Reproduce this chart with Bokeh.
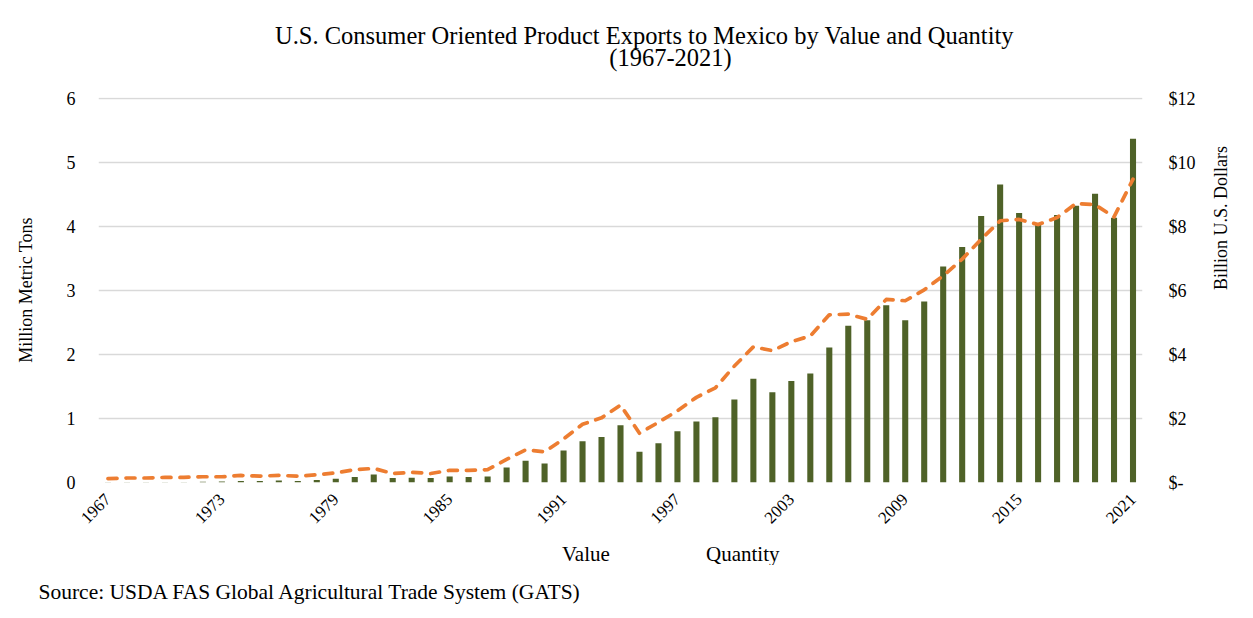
from math import pi
from bokeh.plotting import figure
from bokeh.layouts import column
from bokeh.models import (Range1d, LinearAxis, FixedTicker, Legend, LegendItem, Label, Title,
                          ColumnDataSource, CustomJSTickFormatter, CDSView, IndexFilter)
from bokeh.embed import file_html
from bokeh.resources import INLINE

# ---------------- data ----------------
years = list(range(1967, 2022))
value_busd = [0.005, 0.005, 0.006, 0.007, 0.008, 0.02, 0.03, 0.05, 0.05, 0.06,
              0.05, 0.08, 0.12, 0.17, 0.25, 0.14, 0.15, 0.14, 0.19, 0.17,
              0.19, 0.47, 0.68, 0.59, 1.00, 1.29, 1.42, 1.79, 0.96, 1.23,
              1.60, 1.91, 2.04, 2.59, 3.24, 2.82, 3.17, 3.41, 4.22, 4.90,
              5.07, 5.54, 5.07, 5.66, 6.75, 7.36, 8.33, 9.31, 8.42, 8.07,
              8.36, 8.65, 9.02, 8.27, 10.74]
quantity_mmt = [0.06, 0.07, 0.07, 0.08, 0.08, 0.09, 0.09, 0.11, 0.10, 0.11,
                0.10, 0.12, 0.15, 0.20, 0.22, 0.14, 0.16, 0.14, 0.19, 0.19,
                0.20, 0.36, 0.51, 0.48, 0.68, 0.91, 1.01, 1.21, 0.77, 0.94,
                1.12, 1.33, 1.48, 1.82, 2.12, 2.06, 2.20, 2.29, 2.62, 2.63,
                2.55, 2.86, 2.84, 3.01, 3.23, 3.49, 3.80, 4.09, 4.11, 4.03,
                4.14, 4.36, 4.34, 4.15, 4.74]
x_tick_years = [1967, 1973, 1979, 1985, 1991, 1997, 2003, 2009, 2015, 2021]
left_ticks = [0, 1, 2, 3, 4, 5, 6]
right_ticks = [0, 2, 4, 6, 8, 10, 12]
title_line1 = "U.S. Consumer Oriented Product Exports to Mexico by Value and Quantity"
title_line2 = "(1967-2021)"
left_label = "Million Metric Tons"
right_label = "Billion U.S. Dollars"
series_names = ["Value", "Quantity"]
source_text = "Source: USDA FAS Global Agricultural Trade System (GATS)"

# ---------------- layout constants (page pixels) ----------------
W, H = 1253, 618
TOP_H = 80            # strip holding the title
BOT_Y = 540           # strip holding legend + source starts here
FL, FR, FT, FB = 98, 1142, 97, 482   # plot frame edges on the page
PAD = 1 / 64                          # headroom so the top gridline is not clipped
FONT = "Liberation Serif"
GREEN = "#4F6228"
ORANGE = "#ED7D31"
GRID = "#D9D9D9"
BAR_W = 0.32
LINE_STYLE = dict(line_color=ORANGE, line_width=3.7, line_dash="9 9",
                  line_cap="round", line_join="round")

src = ColumnDataSource(dict(year=years, value=value_busd, qty=quantity_mmt))


def strip(y0, y1):
    """Plain figure used for text / legend; frames in a column align with the chart's."""
    f = figure(width=W, height=y1 - y0, output_backend="svg", toolbar_location=None,
               x_range=Range1d(FL, FR), y_range=Range1d(y1, y0),
               x_axis_type=None, y_axis_type=None, title=None,
               min_border_left=FL, min_border_right=W - FR,
               min_border_top=0, min_border_bottom=0)
    f.outline_line_color = None
    f.grid.visible = False
    f.background_fill_color = "white"
    f.border_fill_color = "white"
    return f


# ---------------- title strip ----------------
top = strip(0, TOP_H)
for s, x, y in [(title_line1, 644, 35), (title_line2, 670, 57)]:
    top.add_layout(Label(x=x, y=y, text=s, text_font=FONT, text_font_size="24.5px",
                         text_align="center", text_baseline="middle", text_color="black"))

# ---------------- main chart ----------------
p = figure(width=W, height=BOT_Y - TOP_H, title=None, output_backend="svg",
           toolbar_location=None,
           x_range=Range1d(years[0] - 0.5, years[-1] + 0.5),
           y_range=Range1d(0, left_ticks[-1] + PAD),
           min_border_left=FL, min_border_right=W - FR,
           min_border_top=FT - TOP_H, min_border_bottom=BOT_Y - FB)
p.outline_line_color = None
p.background_fill_color = "white"
p.border_fill_color = "white"
p.extra_y_ranges = {"value": Range1d(0, right_ticks[-1] + 2 * PAD)}

p.xgrid.visible = False
p.ygrid.ticker = FixedTicker(ticks=left_ticks)
p.ygrid.grid_line_color = GRID
p.ygrid.grid_line_width = 1.3

bars = p.vbar(x="year", top="value", width=BAR_W, source=src, y_range_name="value",
              fill_color=GREEN, line_color=None)
line = p.line(x="year", y="qty", source=src, **LINE_STYLE)


def style_axis(ax, size, standoff):
    ax.major_label_text_font = FONT
    ax.major_label_text_font_size = size
    ax.major_label_text_color = "black"
    ax.major_label_standoff = standoff
    ax.axis_line_color = None
    ax.major_tick_line_color = None
    ax.minor_tick_line_color = None
    ax.axis_label_text_font = FONT
    ax.axis_label_text_font_size = "18px"
    ax.axis_label_text_font_style = "normal"
    ax.axis_label_text_color = "black"


xa = p.xaxis[0]
xa.ticker = FixedTicker(ticks=x_tick_years)
xa.major_label_orientation = pi / 4
style_axis(xa, "17px", 8)

ya = p.yaxis[0]
ya.ticker = FixedTicker(ticks=left_ticks)
style_axis(ya, "18px", 17)
ya.axis_label = left_label
ya.axis_label_standoff = 28

ra = LinearAxis(y_range_name="value", ticker=FixedTicker(ticks=right_ticks),
                formatter=CustomJSTickFormatter(code="return tick == 0 ? '$-' : '$' + tick.toFixed(0);"))
style_axis(ra, "18px", 20)
ra.axis_label = right_label
ra.axis_label_standoff = 22
try:
    ra.axis_label_orientation = pi / 2   # read bottom-to-top like the reference
except Exception:
    pass
p.add_layout(ra, "right")

# ---------------- legend + source strip ----------------
bot = strip(BOT_Y, H)
# legend proxies share the data but render no points (empty view) and sit on far-away
# ranges; they only supply the legend swatches
bot.extra_x_ranges = {"off": Range1d(100000, 100001)}
bot.extra_y_ranges = {"off": Range1d(100000, 100001)}
hidden = CDSView(filter=IndexFilter(indices=[]))
proxy_bar = bot.vbar(x="year", top="value", width=BAR_W, source=src, view=hidden,
                     x_range_name="off", y_range_name="off",
                     fill_color=GREEN, line_color=None)
proxy_line = bot.line(x="year", y="qty", source=src,
                      view=CDSView(filter=IndexFilter(indices=[])),
                      x_range_name="off", y_range_name="off", **LINE_STYLE)
common = dict(orientation="horizontal", padding=0, margin=0, border_line_color=None,
              background_fill_alpha=0, label_text_font=FONT, label_text_font_size="21px",
              label_text_color="black", glyph_height=14)
leg1 = Legend(items=[LegendItem(label=series_names[0], renderers=[proxy_bar])],
              location=(478 - FL, -2), glyph_width=84, label_standoff=0, **common)
leg2 = Legend(items=[LegendItem(label=series_names[1], renderers=[proxy_line])],
              location=(631 - FL, -2), glyph_width=66, label_standoff=9, **common)
bot.add_layout(leg1, "center")
bot.add_layout(leg2, "center")
bot.add_layout(Title(text=source_text, align="left", offset=38 - FL, text_font=FONT,
                     text_font_size="21.5px", text_font_style="normal", text_color="black",
                     vertical_align="middle", standoff=27), "below")

layout = column(top, p, bot, spacing=0)
open("out.html", "w").write(file_html(layout, INLINE))
